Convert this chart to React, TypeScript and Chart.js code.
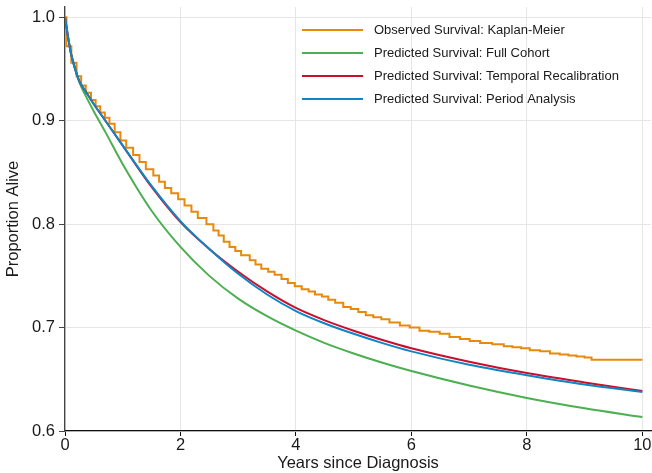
import React, { useEffect, useRef } from "react";
import { Chart, registerables } from "chart.js";

Chart.register(...registerables);

// ---------- data ----------
const X_TICKS = [0, 2, 4, 6, 8, 10];
const Y_TICKS = [0.6, 0.7, 0.8, 0.9, 1.0];

const SERIES_LABELS = [
  "Observed Survival: Kaplan-Meier",
  "Predicted Survival: Full Cohort",
  "Predicted Survival: Temporal Recalibration",
  "Predicted Survival: Period Analysis",
];
const SERIES_COLORS = ["#E8890C", "#4CAF50", "#C8102E", "#0F86C3"];

// Kaplan-Meier step function (time, survival)
const KM_T = [
  0, 0.025, 0.11, 0.2, 0.28, 0.36, 0.45, 0.53, 0.61, 0.69, 0.77, 0.86, 0.96,
  1.06, 1.18, 1.29, 1.4, 1.53, 1.63, 1.73, 1.84, 1.96, 2.07, 2.19, 2.3, 2.45,
  2.57, 2.66, 2.75, 2.85, 2.95, 3.05, 3.2, 3.3, 3.4, 3.52, 3.63, 3.75, 3.86,
  3.98, 4.1, 4.22, 4.33, 4.45, 4.56, 4.68, 4.82, 4.95, 5.08, 5.21, 5.34, 5.48,
  5.62, 5.8, 5.97, 6.14, 6.31, 6.49, 6.66, 6.84, 7.01, 7.19, 7.4, 7.6, 7.75,
  7.9, 8.05, 8.23, 8.4, 8.57, 8.72, 8.86, 9.0, 9.12, 10.0,
];
const KM_S = [
  1.0, 0.972, 0.956, 0.943, 0.934, 0.927, 0.92, 0.914, 0.908, 0.903, 0.897,
  0.889, 0.881, 0.874, 0.867, 0.86, 0.853, 0.847, 0.841, 0.835, 0.83, 0.824,
  0.818, 0.812, 0.806, 0.8, 0.794, 0.789, 0.783, 0.778, 0.774, 0.77, 0.765,
  0.761, 0.757, 0.754, 0.751, 0.747, 0.743, 0.74, 0.737, 0.735, 0.732, 0.73,
  0.727, 0.724, 0.72, 0.718, 0.715, 0.712, 0.71, 0.708, 0.705, 0.702, 0.7,
  0.697, 0.696, 0.694, 0.691, 0.689, 0.687, 0.685, 0.684, 0.682, 0.681, 0.68,
  0.678, 0.677, 0.675, 0.674, 0.673, 0.672, 0.671, 0.669, 0.669,
];

// Predicted (smooth) curves
const CURVE_T = [
  0, 0.05, 0.1, 0.15, 0.25, 0.35, 0.5, 0.7, 1.0, 1.5, 2.0, 2.5, 3.0, 3.5, 4.0,
  4.5, 5, 5.5, 6, 7, 8, 9, 10,
];
const FULL_COHORT = [
  1.0, 0.982, 0.966, 0.955, 0.937, 0.925, 0.909, 0.889, 0.858, 0.813, 0.778,
  0.75, 0.728, 0.711, 0.697, 0.685, 0.675, 0.666, 0.658, 0.644, 0.632, 0.622,
  0.6135,
];
const TEMPORAL = [
  1.0, 0.982, 0.966, 0.955, 0.938, 0.929, 0.916, 0.9, 0.876, 0.836, 0.802,
  0.776, 0.754, 0.735, 0.719, 0.707, 0.697, 0.688, 0.68, 0.667, 0.656, 0.647,
  0.6387,
];
const PERIOD = [
  1.0, 0.982, 0.966, 0.955, 0.938, 0.929, 0.916, 0.9, 0.876, 0.837, 0.803,
  0.776, 0.752, 0.732, 0.716, 0.704, 0.694, 0.685, 0.677, 0.664, 0.654, 0.645,
  0.6377,
];

const FONT_FAMILY = "'Liberation Sans', Arial, Helvetica, sans-serif";
const TEXT_COLOR = "#1a1a1a";

const toPoints = (xs: number[], ys: number[]) =>
  xs.map((x, i) => ({ x, y: ys[i] }));

const legendPlugin = {
  id: "customLegend",
  afterDraw(chart: any) {
    const ctx = chart.ctx as CanvasRenderingContext2D;
    ctx.save();
    ctx.font = `13px ${FONT_FAMILY}`;
    ctx.textBaseline = "middle";
    ctx.textAlign = "left";
    SERIES_LABELS.forEach((label, i) => {
      const y = 30 + i * 23;
      ctx.strokeStyle = SERIES_COLORS[i];
      ctx.lineWidth = 2;
      ctx.beginPath();
      ctx.moveTo(302, y);
      ctx.lineTo(363, y);
      ctx.stroke();
      ctx.fillStyle = TEXT_COLOR;
      ctx.fillText(label, 374, y + 0.5);
    });
    ctx.restore();
  },
};

export default function App() {
  const canvasRef = useRef<HTMLCanvasElement | null>(null);

  useEffect(() => {
    document.body.style.margin = "0";
    const canvas = canvasRef.current;
    if (!canvas) return;

    const chart = new Chart(canvas, {
      type: "line",
      data: {
        datasets: [
          {
            label: SERIES_LABELS[0],
            data: toPoints(KM_T, KM_S),
            borderColor: SERIES_COLORS[0],
            borderWidth: 2,
            stepped: true,
            pointRadius: 0,
            fill: false,
            order: 3,
          },
          {
            label: SERIES_LABELS[1],
            data: toPoints(CURVE_T, FULL_COHORT),
            borderColor: SERIES_COLORS[1],
            borderWidth: 2,
            cubicInterpolationMode: "monotone",
            pointRadius: 0,
            fill: false,
            order: 2,
          },
          {
            label: SERIES_LABELS[2],
            data: toPoints(CURVE_T, TEMPORAL),
            borderColor: SERIES_COLORS[2],
            borderWidth: 2,
            cubicInterpolationMode: "monotone",
            pointRadius: 0,
            fill: false,
            order: 1,
          },
          {
            label: SERIES_LABELS[3],
            data: toPoints(CURVE_T, PERIOD),
            borderColor: SERIES_COLORS[3],
            borderWidth: 2,
            cubicInterpolationMode: "monotone",
            pointRadius: 0,
            fill: false,
            order: 0,
          },
        ],
      },
      options: {
        animation: false,
        responsive: false,
        maintainAspectRatio: false,
        devicePixelRatio: 1,
        layout: { padding: { top: 7, right: 1, left: 0, bottom: 0 } },
        plugins: {
          legend: { display: false },
          tooltip: { enabled: false },
        },
        scales: {
          x: {
            type: "linear",
            min: 0,
            max: 10.15,
            afterFit: (scale: any) => {
              scale.height = 42;
              scale.paddingLeft = 0;
              scale.paddingRight = 0;
            },
            afterBuildTicks: (scale: any) => {
              scale.ticks = X_TICKS.map((v) => ({ value: v }));
            },
            grid: {
              color: "#e6e6e6",
              lineWidth: 1,
              drawTicks: true,
              tickLength: 5,
              tickColor: "#111",
            },
            border: { display: true, color: "#111", width: 1.3 },
            ticks: {
              padding: 0,
              color: TEXT_COLOR,
              font: { family: FONT_FAMILY, size: 16.5 },
              maxRotation: 0,
              callback: (v: any) => String(v),
            },
            title: {
              display: true,
              text: "Years since Diagnosis",
              color: TEXT_COLOR,
              font: { family: FONT_FAMILY, size: 16.5 },
              padding: { top: 0, bottom: 0 },
            },
          },
          y: {
            type: "linear",
            min: 0.6,
            max: 1.01,
            afterFit: (scale: any) => {
              scale.width = 65;
              scale.paddingTop = 0;
              scale.paddingBottom = 0;
            },
            afterBuildTicks: (scale: any) => {
              scale.ticks = Y_TICKS.map((v) => ({ value: v }));
            },
            grid: {
              color: "#e6e6e6",
              lineWidth: 1,
              drawTicks: true,
              tickLength: 6,
              tickColor: "#444",
            },
            border: { display: true, color: "#444", width: 1.3 },
            ticks: {
              padding: 4,
              color: TEXT_COLOR,
              font: { family: FONT_FAMILY, size: 16.5 },
              callback: (v: any) => Number(v).toFixed(1),
            },
            title: {
              display: true,
              text: "Proportion Alive",
              color: TEXT_COLOR,
              font: { family: FONT_FAMILY, size: 16.5 },
              padding: { top: 4, bottom: 0 },
            },
          },
        },
      },
      plugins: [legendPlugin],
    });

    return () => {
      chart.destroy();
    };
  }, []);

  return (
    <div style={{ width: 652, height: 473, background: "#fff" }}>
      <canvas ref={canvasRef} width={652} height={473} />
    </div>
  );
}
